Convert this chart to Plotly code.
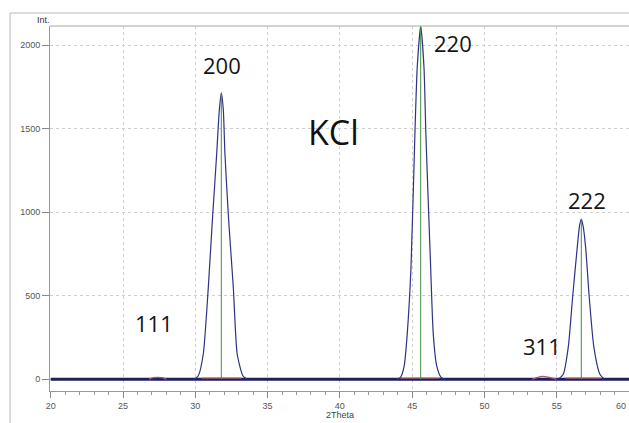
import plotly.graph_objects as go

# ---- data ----
hkl = ["111", "200", "220", "311", "222"]
peak_2theta = [27.4, 31.8, 45.59, 54.0, 56.7]
peak_int = [12, 1715, 2115, 18, 959]

# profile of the strong reflections (2Theta, Int.)
tt_200 = [29.9, 30.2, 30.55, 30.9, 31.18, 31.48, 31.66, 31.8, 31.94, 32.05, 32.31, 32.63, 32.9, 33.3, 33.6]
i_200 = [0, 20, 150, 550, 950, 1350, 1610, 1715, 1610, 1350, 950, 550, 150, 20, 0]

tt_220 = [43.9, 44.2, 44.45, 44.66, 44.92, 45.19, 45.35, 45.59, 45.82, 45.95, 46.28, 46.46, 46.7, 47.0, 47.3]
i_220 = [0, 12, 80, 272, 670, 1467, 1865, 2115, 1865, 1467, 670, 272, 80, 12, 0]

tt_222 = [55.1, 55.45, 55.8, 56.1, 56.42, 56.58, 56.7, 56.82, 57.0, 57.25, 57.57, 57.99, 58.3]
i_222 = [0, 30, 193, 491, 790, 920, 959, 920, 790, 491, 193, 30, 0]

# weak reflections
tt_111 = [26.8, 27.1, 27.4, 27.7, 28.0]
i_111 = [0, 10, 12, 10, 0]
tt_311 = [53.3, 53.7, 54.0, 54.3, 54.6, 55.0]
i_311 = [0, 12, 18, 15, 8, 0]

# background segments under the peaks
bg_start = [30.4, 44.15, 55.6]
bg_end = [33.2, 46.9, 58.1]
bg_level = [8, 8, 8]

x_ticks = [20, 25, 30, 35, 40, 45, 50, 55, 60]
y_ticks = [0, 500, 1000, 1500, 2000]

# ---- figure ----
fig = go.Figure()

# thick zero line
fig.add_trace(go.Scatter(x=[x_ticks[0], x_ticks[-1]], y=[0, 0], mode="lines",
                         line=dict(color="#1f1f5c", width=3), hoverinfo="skip"))

# background segments (red)
bx, by = [], []
for s, e, l in zip(bg_start, bg_end, bg_level):
    bx += [s, e, None]
    by += [l, l, None]
fig.add_trace(go.Scatter(x=bx, y=by, mode="lines",
                         line=dict(color="#e07a68", width=1.2), hoverinfo="skip"))

# weak bumps
for tt, ii in [(tt_111, i_111), (tt_311, i_311)]:
    fig.add_trace(go.Scatter(x=tt, y=ii, mode="lines",
                             line=dict(color="#a0566e", width=1.3, shape="spline"),
                             hoverinfo="skip"))

# profiles
for tt, ii in [(tt_200, i_200), (tt_220, i_220), (tt_222, i_222)]:
    fig.add_trace(go.Scatter(x=tt, y=ii, mode="lines",
                             line=dict(color="#2e3384", width=1.2, shape="spline", smoothing=0.6),
                             hoverinfo="skip"))

# green sticks for the strong reflections
sx, sy = [], []
for p, h in zip(peak_2theta, peak_int):
    if h > 100:
        sx += [p, p, None]
        sy += [0, h, None]
fig.add_trace(go.Scatter(x=sx, y=sy, mode="lines",
                         line=dict(color="#3f8f3f", width=1), hoverinfo="skip"))

# hkl labels
label_pos = {"111": (27.14, 340), "200": (31.83, 1880), "220": (47.84, 2012),
             "311": (53.98, 199), "222": (57.07, 1074)}
for name in hkl:
    lx, ly = label_pos[name]
    fig.add_annotation(x=lx, y=ly, text=name, showarrow=False,
                       font=dict(family="Open Sans", size=22, color="#151515"),
                       xanchor="center", yanchor="middle")

fig.add_annotation(x=39.54, y=1481, text="KCl", showarrow=False,
                   font=dict(family="Open Sans", size=34, color="#111111"),
                   xanchor="center", yanchor="middle")

# axis captions
fig.add_annotation(xref="paper", yref="paper", x=-0.0104, y=1.0164, text="Int.",
                   showarrow=False, font=dict(family="Liberation Sans", size=9, color="#333"),
                   xanchor="center", yanchor="middle")
fig.add_annotation(xref="paper", yref="paper", x=0.5009, y=-0.0658, text="2Theta",
                   showarrow=False, font=dict(family="Liberation Sans", size=9, color="#444"),
                   xanchor="center", yanchor="middle")
# last tick label, kept inside the window edge
fig.add_annotation(x=x_ticks[-1], yref="paper", y=-0.04, text=str(x_ticks[-1]),
                   showarrow=False, font=dict(family="Liberation Sans", size=9, color="#555555"),
                   xanchor="right", yanchor="middle", xshift=-1)

# frames
frame = dict(color="#b8b8b8", width=1)
fig.add_shape(type="line", xref="paper", yref="paper", x0=-0.069, x1=1.0, y0=1.0356, y1=1.0356, line=frame)
fig.add_shape(type="line", xref="paper", yref="paper", x0=-0.069, x1=-0.069, y0=-0.09, y1=1.0356, line=frame)
fig.add_shape(type="line", xref="paper", yref="paper", x0=0, x1=1.0, y0=1.0, y1=1.0, line=dict(color="#a8a8a8", width=1))

fig.update_layout(
    width=629, height=423,
    margin=dict(l=50, r=0, t=26, b=32),
    paper_bgcolor="white", plot_bgcolor="white",
    showlegend=False,
    xaxis=dict(range=[19.95, 60.0], tickvals=x_ticks, ticktext=[str(v) for v in x_ticks],
               showgrid=True, gridcolor="#cfcfcf", griddash="dot", gridwidth=1,
               zeroline=False, showline=True, linecolor="#999999", linewidth=1,
               ticks="outside", ticklen=6, tickcolor="#888888",
               minor=dict(dtick=1, ticks="outside", ticklen=3, tickcolor="#999999", showgrid=False),
               tickfont=dict(family="Liberation Sans", size=9, color="#555555")),
    yaxis=dict(range=[-70, 2115], tickvals=y_ticks, ticktext=[str(v) for v in y_ticks],
               showgrid=True, gridcolor="#cfcfcf", griddash="dot", gridwidth=1,
               zeroline=False, showline=True, linecolor="#999999", linewidth=1,
               ticks="outside", ticklen=7, tickcolor="#888888",
               tickfont=dict(family="Liberation Sans", size=9, color="#555555")),
)

fig.write_html("out.html")
